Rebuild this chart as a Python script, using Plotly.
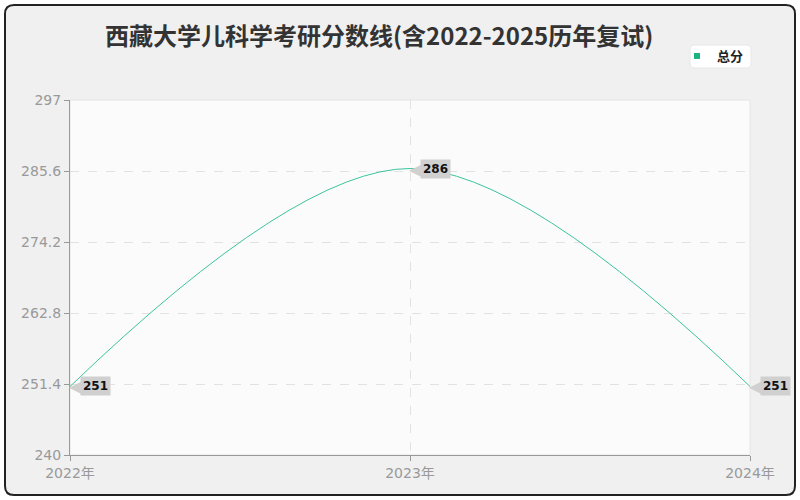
import plotly.graph_objects as go

years = [2022, 2023, 2024]
year_labels = ['2022年', '2023年', '2024年']
total_scores = [251, 286, 251]
y_ticks = [240, 251.4, 262.8, 274.2, 285.6, 297]

W, H = 800, 500
L, R, T, B = 70, 50, 100, 45
pw, ph = W - L - R, H - T - B


def px2paper(px, py):
    return (px - L) / pw, (H - B - py) / ph


def rounded_rect(x0, y0, x1, y1, r):
    ax, ay = px2paper(x0 + r, y0)
    path = f'M {ax},{ay}'
    for (lx, ly), (cx, cy), (ex, ey) in [
        ((x1 - r, y0), (x1, y0), (x1, y0 + r)),
        ((x1, y1 - r), (x1, y1), (x1 - r, y1)),
        ((x0 + r, y1), (x0, y1), (x0, y1 - r)),
        ((x0, y0 + r), (x0, y0), (x0 + r, y0)),
    ]:
        a = px2paper(lx, ly)
        c = px2paper(cx, cy)
        e = px2paper(ex, ey)
        path += f' L {a[0]},{a[1]} Q {c[0]},{c[1]} {e[0]},{e[1]}'
    return path + ' Z'


fig = go.Figure()

fig.add_trace(go.Scatter(
    x=years, y=total_scores, mode='lines',
    line=dict(color='#3cc49e', width=1, shape='spline', smoothing=1),
    showlegend=False, hoverinfo='skip'
))
# legend entry with a square marker
fig.add_trace(go.Scatter(
    x=[None], y=[None], mode='markers', name='<b>总分</b>',
    marker=dict(symbol='square', size=6, color='#1db37f')
))

# value labels: grey pointer + grey box
for x, y in zip(years, total_scores):
    fig.add_annotation(
        x=x, y=y, text='◀', showarrow=False,
        xanchor='left', yanchor='middle', xshift=-3, yshift=0,
        font=dict(family='DejaVu Sans', size=20, color='#d0d0d0'),
    )
    fig.add_annotation(
        x=x, y=y, text=f'<b>{y}</b>', showarrow=False,
        xanchor='left', yanchor='middle', xshift=10,
        bgcolor='#d0d0d0', borderpad=2,
        font=dict(family='DejaVu Sans', size=12, color='#111111'),
    )

fig.add_shape(type='path', xref='paper', yref='paper',
              path=rounded_rect(5, 5, 795, 495, 9),
              fillcolor='#f0f0f0', line=dict(color='#222222', width=2), layer='below')
fig.add_shape(type='rect', xref='paper', yref='paper', x0=0, y0=0, x1=1, y1=1,
              fillcolor='#fbfbfb', line=dict(color='#e4e4e4', width=1), layer='below')
fig.add_shape(type='path', xref='paper', yref='paper',
              path=rounded_rect(690, 45, 751, 68, 5),
              fillcolor='white', line=dict(color='#e8e8e8', width=1), layer='below')

fig.update_layout(
    width=W, height=H,
    margin=dict(l=L, r=R, t=T, b=B),
    paper_bgcolor='white',
    plot_bgcolor='rgba(0,0,0,0)',
    font=dict(family='DejaVu Sans, Noto Sans CJK SC', color='#999999'),
    title=dict(text='<b>西藏大学儿科学考研分数线(含2022-2025历年复试)</b>',
               x=0.474, xanchor='center', y=0.926, yanchor='middle',
               font=dict(family='Noto Sans CJK SC', size=24, color='#333333')),
    legend=dict(x=px2paper(677, 0)[0], y=px2paper(0, 56)[1],
                xanchor='left', yanchor='middle',
                bgcolor='rgba(0,0,0,0)',
                font=dict(family='Noto Sans CJK SC', size=13, color='#222222'),
                itemwidth=30),
    xaxis=dict(range=[2022, 2024], tickvals=years, ticktext=year_labels,
               showgrid=True, gridcolor='#e2e2e2', griddash='dash',
               showline=True, linecolor='#999999', linewidth=1,
               ticks='outside', ticklen=5, tickcolor='#999999',
               tickfont=dict(size=14, color='#999999'), zeroline=False),
    yaxis=dict(range=[240, 297], tickvals=y_ticks,
               showgrid=True, gridcolor='#e2e2e2', griddash='dash',
               showline=True, linecolor='#999999', linewidth=1,
               ticks='outside', ticklen=5, tickcolor='#999999',
               tickfont=dict(size=14, color='#999999'), zeroline=False),
)

fig.write_html('out.html', config={'displayModeBar': False},
               post_script="document.body.style.margin='0';")
